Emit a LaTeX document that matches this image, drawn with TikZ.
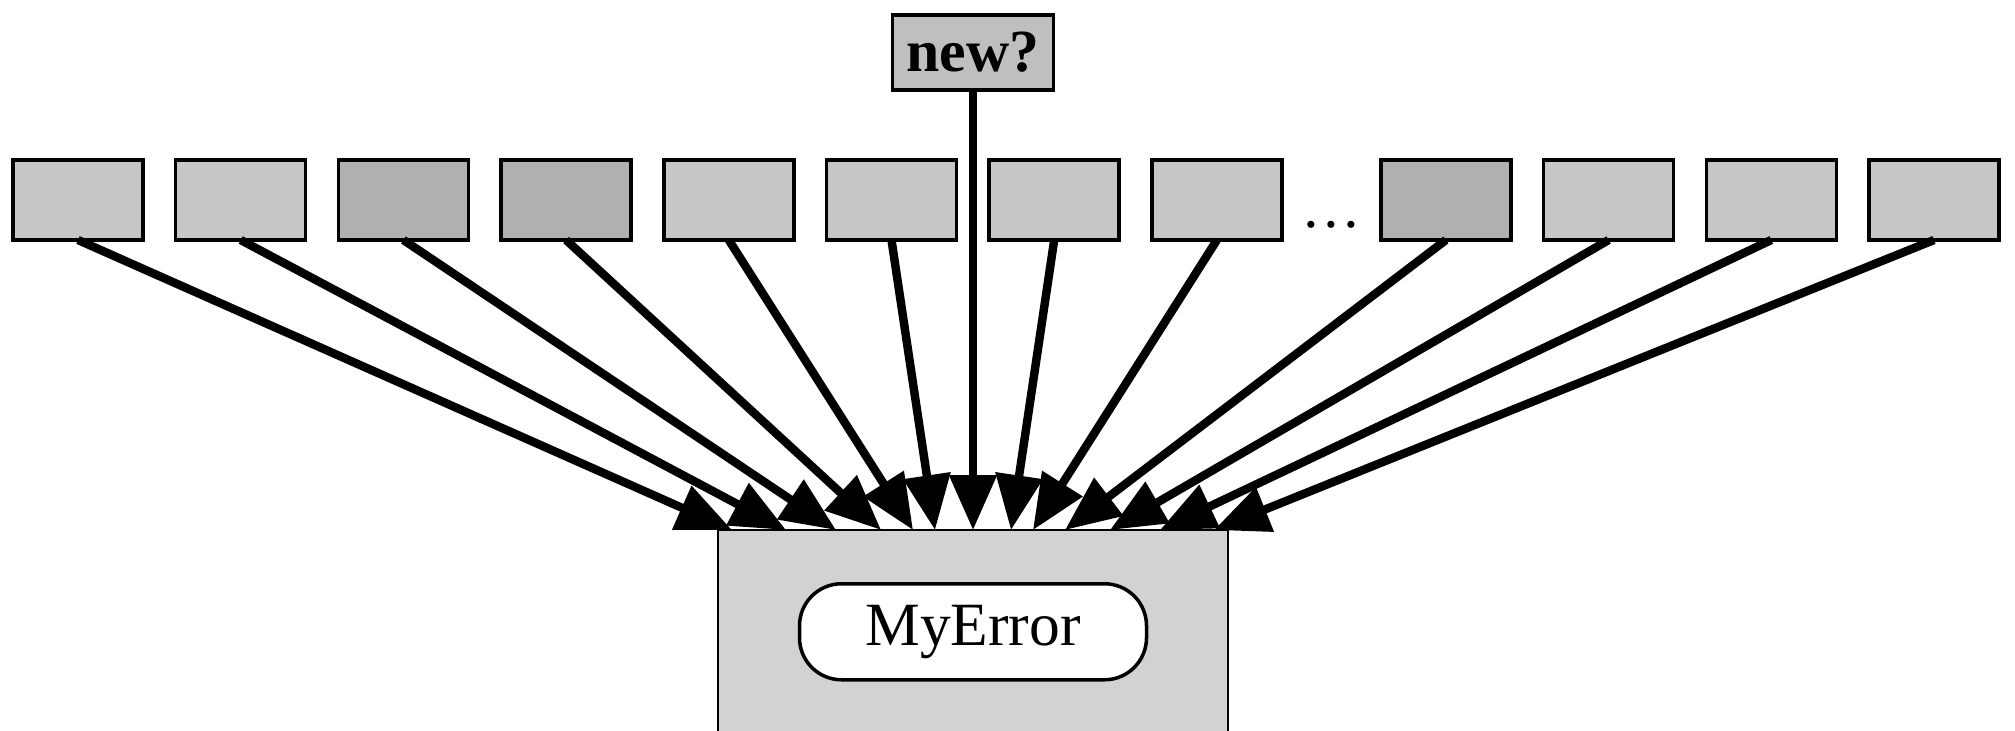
\documentclass[tikz,border=0pt]{standalone}
\usepackage{fontspec}
\setmainfont{Liberation Serif}
\usetikzlibrary{positioning,calc,arrows.meta}
\tikzset{
    slot/.style = {
        draw,
        line width=1pt,
        fill = gray!45,
        minimum width=1.3cm,
        minimum height=0.8cm,
        inner sep=0pt,
        outer sep=0pt,
        },
    dark slot/.style = {
        slot,
        fill = gray!62,
        },
    query/.style = {
        slot,
        fill = gray!50,
        minimum width=1.61cm,
        minimum height=0.75cm,
        font=\fontsize{17}{20}\selectfont\bfseries,
        },
    base/.style = {
        draw,
        line width=0.6pt,
        fill = gray!35,
        minimum width=5.1cm,
        minimum height=2.4cm,
        outer sep=0pt,
        },
    label box/.style = {
        draw,
        line width=1pt,
        fill = white,
        rounded corners=0.42cm,
        minimum width=3.47cm,
        minimum height=0.96cm,
        font=\fontsize{17.5}{20}\selectfont,
        },
    gap mark/.style = {
        font=\fontsize{17}{20}\selectfont,
        yshift=-0.25cm,
        },
    feed/.style = {
        line width=2.4pt,
        -{Triangle[length=5.5mm,width=4.6mm]},
        },
}
\begin{document}
\begin{tikzpicture}
    \useasboundingbox (0,0) rectangle (20.15,7.3);
    \clip (0,0) rectangle (20.15,7.3);

    % row of subclasses
    \node[slot] (b1) at (0.78,5.3) {};
    \node[slot, right=0.327cm of b1] (b2) {};
    \node[dark slot, right=0.327cm of b2] (b3) {};
    \node[dark slot, right=0.327cm of b3] (b4) {};
    \node[slot, right=0.327cm of b4] (b5) {};
    \node[slot, right=0.327cm of b5] (b6) {};
    \node[slot, right=0.327cm of b6] (b7) {};
    \node[slot, right=0.327cm of b7] (b8) {};
    \node[dark slot, right=0.99cm of b8] (b9) {};
    \node[slot, right=0.327cm of b9] (b10) {};
    \node[slot, right=0.327cm of b10] (b11) {};
    \node[slot, right=0.327cm of b11] (b12) {};
    \path (b8) -- node[gap mark] (gap) {\dots} (b9);

    \node[query] (new) at (9.73,6.775) {new?};

    \node[base, below=4.4cm of new.south, anchor=north] (err) {};
    \node[label box, below=0.52cm of err.north] (myerr) {MyError};

    % where the arrows land
    \coordinate (in1) at ($(err.north)+(-2.41,0)$);
    \coordinate (in2) at ($(err.north)+(-1.87,0)$);
    \coordinate (in3) at ($(err.north)+(-1.37,0)$);
    \coordinate (in4) at ($(err.north)+(-0.92,0)$);
    \coordinate (in5) at ($(err.north)+(-0.60,0)$);
    \coordinate (in6) at ($(err.north)+(-0.38,0)$);
    \coordinate (in7) at ($(err.north)+(0.38,0)$);
    \coordinate (in8) at ($(err.north)+(0.60,0)$);
    \coordinate (in9) at ($(err.north)+(0.92,0)$);
    \coordinate (in10) at ($(err.north)+(1.37,0)$);
    \coordinate (in11) at ($(err.north)+(1.87,0)$);
    \coordinate (in12) at ($(err.north)+(2.41,0)$);

    \path (b1.south) edge[feed] (in1);
    \path (b2.south) edge[feed] (in2);
    \path (b3.south) edge[feed] (in3);
    \path (b4.south) edge[feed] (in4);
    \path (b5.south) edge[feed] (in5);
    \path (b6.south) edge[feed] (in6);
    \path (b7.south) edge[feed] (in7);
    \path (b8.south) edge[feed] (in8);
    \path (b9.south) edge[feed] (in9);
    \path (b10.south) edge[feed] (in10);
    \path (b11.south) edge[feed] (in11);
    \path (b12.south) edge[feed] (in12);
    \path (new.south) edge[feed] (err.north);
\end{tikzpicture}
\end{document}
